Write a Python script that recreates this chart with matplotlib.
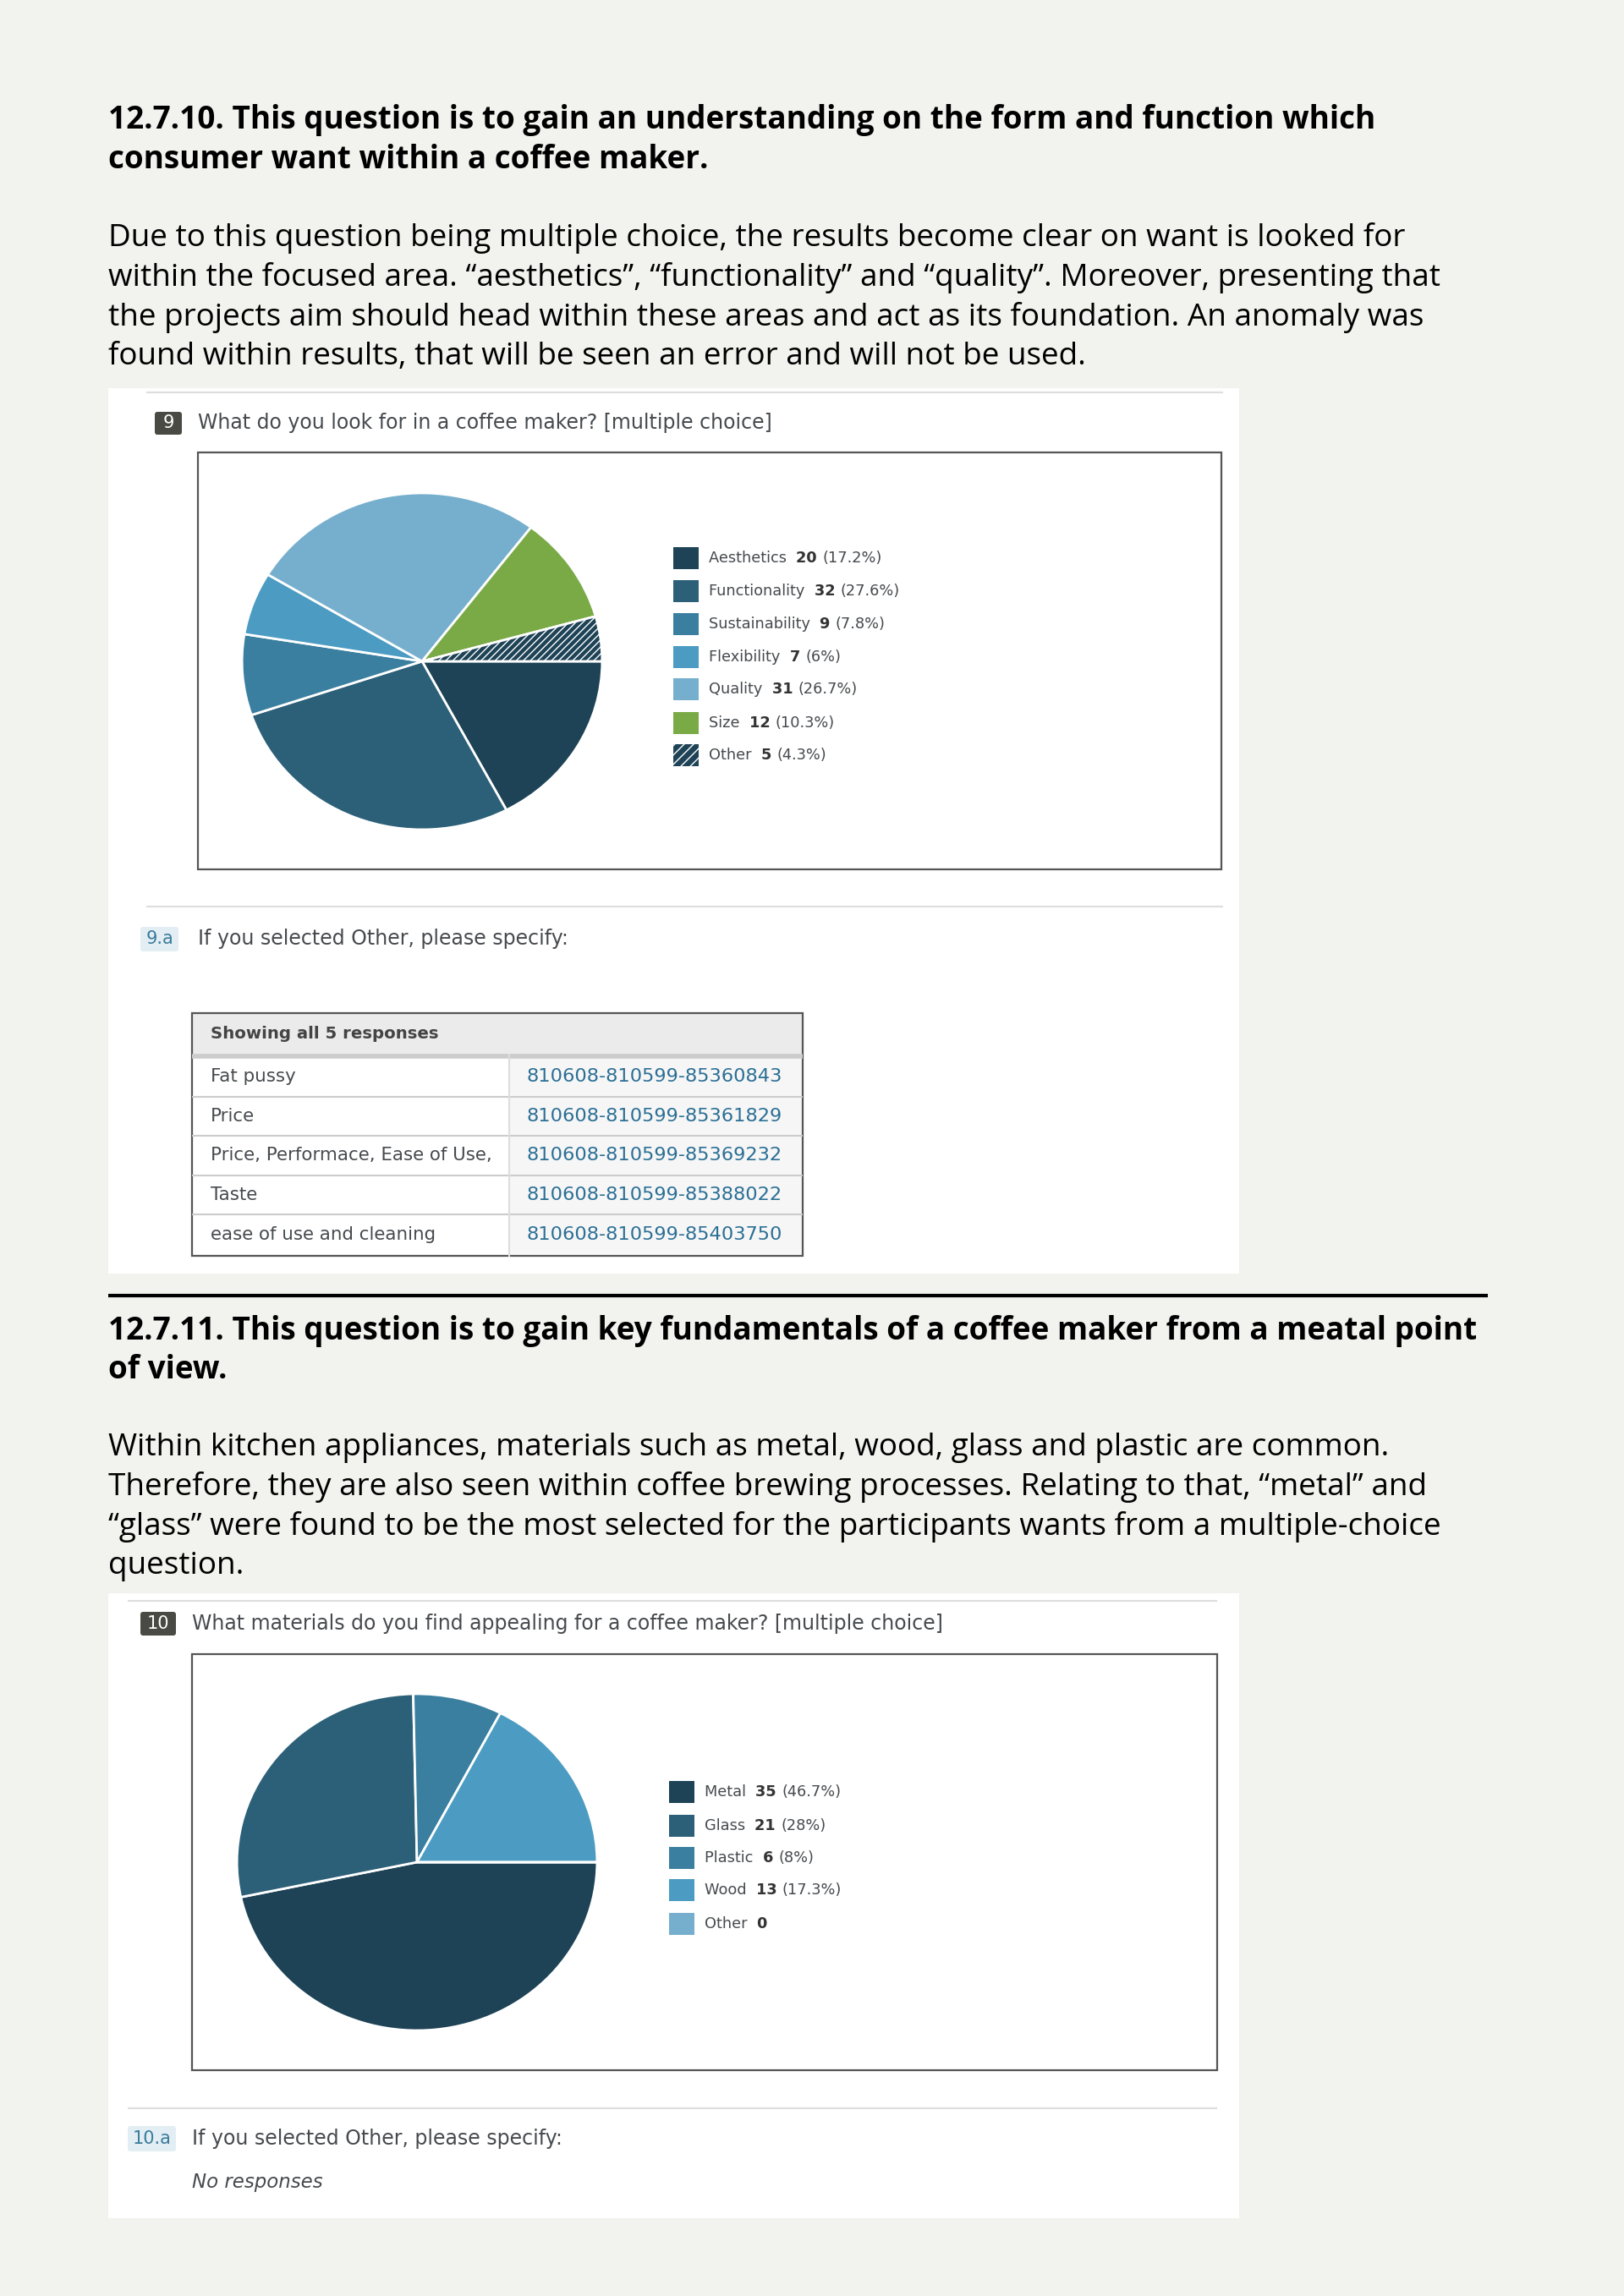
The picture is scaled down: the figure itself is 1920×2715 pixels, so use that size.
import matplotlib
matplotlib.use("Agg")
import matplotlib.pyplot as plt
from matplotlib.patches import Rectangle, FancyBboxPatch

# ---- data ----
q9_labels = ["Aesthetics", "Functionality", "Sustainability", "Flexibility", "Quality", "Size", "Other"]
q9_counts = [20, 32, 9, 7, 31, 12, 5]
q9_pcts = ["17.2%", "27.6%", "7.8%", "6%", "26.7%", "10.3%", "4.3%"]
q9_colors = ["#1e4356", "#2c6079", "#3a7fa0", "#4b9bc3", "#76afcd", "#7aaa46", "#1e4356"]

q10_labels = ["Metal", "Glass", "Plastic", "Wood", "Other"]
q10_counts = [35, 21, 6, 13, 0]
q10_pcts = ["46.7%", "28%", "8%", "17.3%", ""]
q10_colors = ["#1e4356", "#2c6079", "#3a7fa0", "#4b9bc3", "#76afcd"]

other_texts = ["Fat pussy", "Price", "Price, Performace, Ease of Use,", "Taste", "ease of use and cleaning"]
other_ids = ["810608-810599-85360843", "810608-810599-85361829", "810608-810599-85369232",
             "810608-810599-85388022", "810608-810599-85403750"]

heading1 = ["12.7.10. This question is to gain an understanding on the form and function which",
            "consumer want within a coffee maker."]
para1 = ["Due to this question being multiple choice, the results become clear on want is looked for",
         "within the focused area. \u201caesthetics\u201d, \u201cfunctionality\u201d and \u201cquality\u201d. Moreover, presenting that",
         "the projects aim should head within these areas and act as its foundation. An anomaly was",
         "found within results, that will be seen an error and will not be used."]
heading2 = ["12.7.11. This question is to gain key fundamentals of a coffee maker from a meatal point",
            "of view."]
para2 = ["Within kitchen appliances, materials such as metal, wood, glass and plastic are common.",
         "Therefore, they are also seen within coffee brewing processes. Relating to that, \u201cmetal\u201d and",
         "\u201cglass\u201d were found to be the most selected for the participants wants from a multiple-choice",
         "question."]

W, H = 1920, 2715
fig = plt.figure(figsize=(W / 100, H / 100), dpi=100)
fig.patch.set_facecolor("#f2f2ee")

# page axes in pixel coords (y down)
pg = fig.add_axes([0, 0, 1, 1])
pg.set_xlim(0, W)
pg.set_ylim(H, 0)
pg.axis("off")

body_font = "Open Sans"
shot_font = "DejaVu Sans"
shot_grey = "#464a4e"


def text_block(lines, y0, dy, bold=False):
    for i, s in enumerate(lines):
        pg.text(128, y0 + i * dy, s, fontsize=26.55, family=body_font,
                fontweight="bold" if bold else "normal", color="black", va="center")


def hline(x0, x1, y, color="#dddddd", lw=1.5):
    pg.plot([x0, x1], [y, y], color=color, lw=lw, solid_capstyle="butt")


def badge(x, y, w, h, label, fc, tc):
    pg.add_patch(FancyBboxPatch((x, y), w, h, boxstyle="round,pad=0,rounding_size=3",
                                fc=fc, ec="none"))
    pg.text(x + w / 2, y + h / 2, label, ha="center", va="center", fontsize=15,
            family=shot_font, color=tc)


def pie_panel(box, counts, colors, hatch_last):
    cx, cy, rx, ry = box
    ax = fig.add_axes([(cx - rx) / W, 1 - (cy + ry) / H, 2 * rx / W, 2 * ry / H])
    wedges, _ = ax.pie(counts, colors=colors, startangle=0, counterclock=False, radius=1,
                       wedgeprops=dict(edgecolor="white", linewidth=2))
    if hatch_last:
        plt.rcParams["hatch.color"] = "white"
        wedges[-1].set_hatch("////")
        wedges[-1].set_edgecolor("white")
    ax.set_aspect("auto")
    ax.set_xlim(-1.01, 1.01)
    ax.set_ylim(-1.01, 1.01)
    ax.axis("off")


def legend(x, ys, labels, counts, pcts, colors, hatch_last):
    for i, (lab, c, p, col) in enumerate(zip(labels, counts, pcts, colors)):
        y = ys[i]
        r = Rectangle((x, y - 13), 30, 26, fc=col, ec="none")
        if hatch_last and i == len(labels) - 1:
            r.set_hatch("///")
            r.set_edgecolor("white")
            r.set_linewidth(0)
        pg.add_patch(r)
        t1 = pg.text(x + 42, y, lab + "  ", fontsize=12.8, family=shot_font, color=shot_grey,
                     va="center")
        t2 = pg.annotate(str(c) + " ", xy=(1, 0.5), xycoords=t1, va="center", ha="left",
                         fontsize=12.8, family=shot_font, fontweight="bold", color="#333333")
        if p:
            pg.annotate("(" + p + ")", xy=(1, 0.5), xycoords=t2, va="center", ha="left",
                        fontsize=12.8, family=shot_font, color=shot_grey)


# ---- section 12.7.10 ----
text_block(heading1, 142, 47, bold=True)
text_block(para1, 282, 46.5)

pg.add_patch(Rectangle((128, 459), 1337, 1047, fc="white", ec="none"))
hline(173, 1446, 464)
badge(183, 487, 32, 27, "9", "#4a4a44", "white")
pg.text(234, 500, "What do you look for in a coffee maker? [multiple choice]", fontsize=17,
        family=shot_font, color=shot_grey, va="center")
pg.add_patch(Rectangle((234, 535), 1210, 493, fc="white", ec="#555555", lw=1.6))
pie_panel((499, 782, 215, 201), q9_counts, q9_colors, True)
legend(796, [660, 699, 738, 777, 815, 855, 893], q9_labels, q9_counts, q9_pcts, q9_colors, True)

hline(173, 1446, 1072)
badge(166, 1096, 45, 29, "9.a", "#e2eef3", "#3a7b9c")
pg.text(234, 1110, "If you selected Other, please specify:", fontsize=17, family=shot_font,
        color=shot_grey, va="center")

# responses table
tx0, tx1, tsplit = 227, 949, 602
pg.add_patch(Rectangle((tx0, 1198), tx1 - tx0, 49, fc="#ebebeb", ec="none"))
pg.text(249, 1222, "Showing all 5 responses", fontsize=14.2, family=shot_font,
        fontweight="bold", color="#444444", va="center")
row_h = 46.6
for i, (txt, rid) in enumerate(zip(other_texts, other_ids)):
    y = 1250 + i * row_h
    pg.add_patch(Rectangle((tsplit, y), tx1 - tsplit, row_h, fc="#f6f6f6", ec="none"))
    pg.text(249, y + row_h / 2, txt, fontsize=15.4, family=shot_font, color=shot_grey, va="center")
    pg.text(623, y + row_h / 2, rid, fontsize=16.2, family=shot_font, color="#2b6f95", va="center")
    if i > 0:
        hline(tx0, tx1, y, color="#cccccc", lw=1.5)
hline(tx0, tx1, 1248.5, color="#cccccc", lw=4)
pg.plot([tsplit, tsplit], [1247, 1485], color="#dddddd", lw=1.5)
pg.add_patch(Rectangle((tx0, 1198), tx1 - tx0, 287, fc="none", ec="#555555", lw=1.6))

hline(128, 1759, 1532, color="black", lw=3)

# ---- section 12.7.11 ----
text_block(heading2, 1574, 46, bold=True)
text_block(para2, 1712, 46.5)

pg.add_patch(Rectangle((128, 1884), 1337, 739, fc="white", ec="none"))
hline(151, 1439, 1893)
badge(166, 1906, 42, 28, "10", "#4a4a44", "white")
pg.text(227, 1920, "What materials do you find appealing for a coffee maker? [multiple choice]",
        fontsize=17, family=shot_font, color=shot_grey, va="center")
pg.add_patch(Rectangle((227, 1956), 1212, 492, fc="white", ec="#555555", lw=1.6))
pie_panel((493, 2202, 215, 201), q10_counts, q10_colors, False)
legend(791, [2119, 2159, 2197, 2235, 2275], q10_labels, q10_counts, q10_pcts, q10_colors, False)

hline(151, 1439, 2493)
badge(151, 2514, 57, 30, "10.a", "#e2eef3", "#3a7b9c")
pg.text(227, 2529, "If you selected Other, please specify:", fontsize=17, family=shot_font,
        color=shot_grey, va="center")
pg.text(227, 2580, "No responses", fontsize=16.5, family=shot_font, style="italic",
        color=shot_grey, va="center")

fig.savefig("out.png", dpi=100, facecolor=fig.get_facecolor())
